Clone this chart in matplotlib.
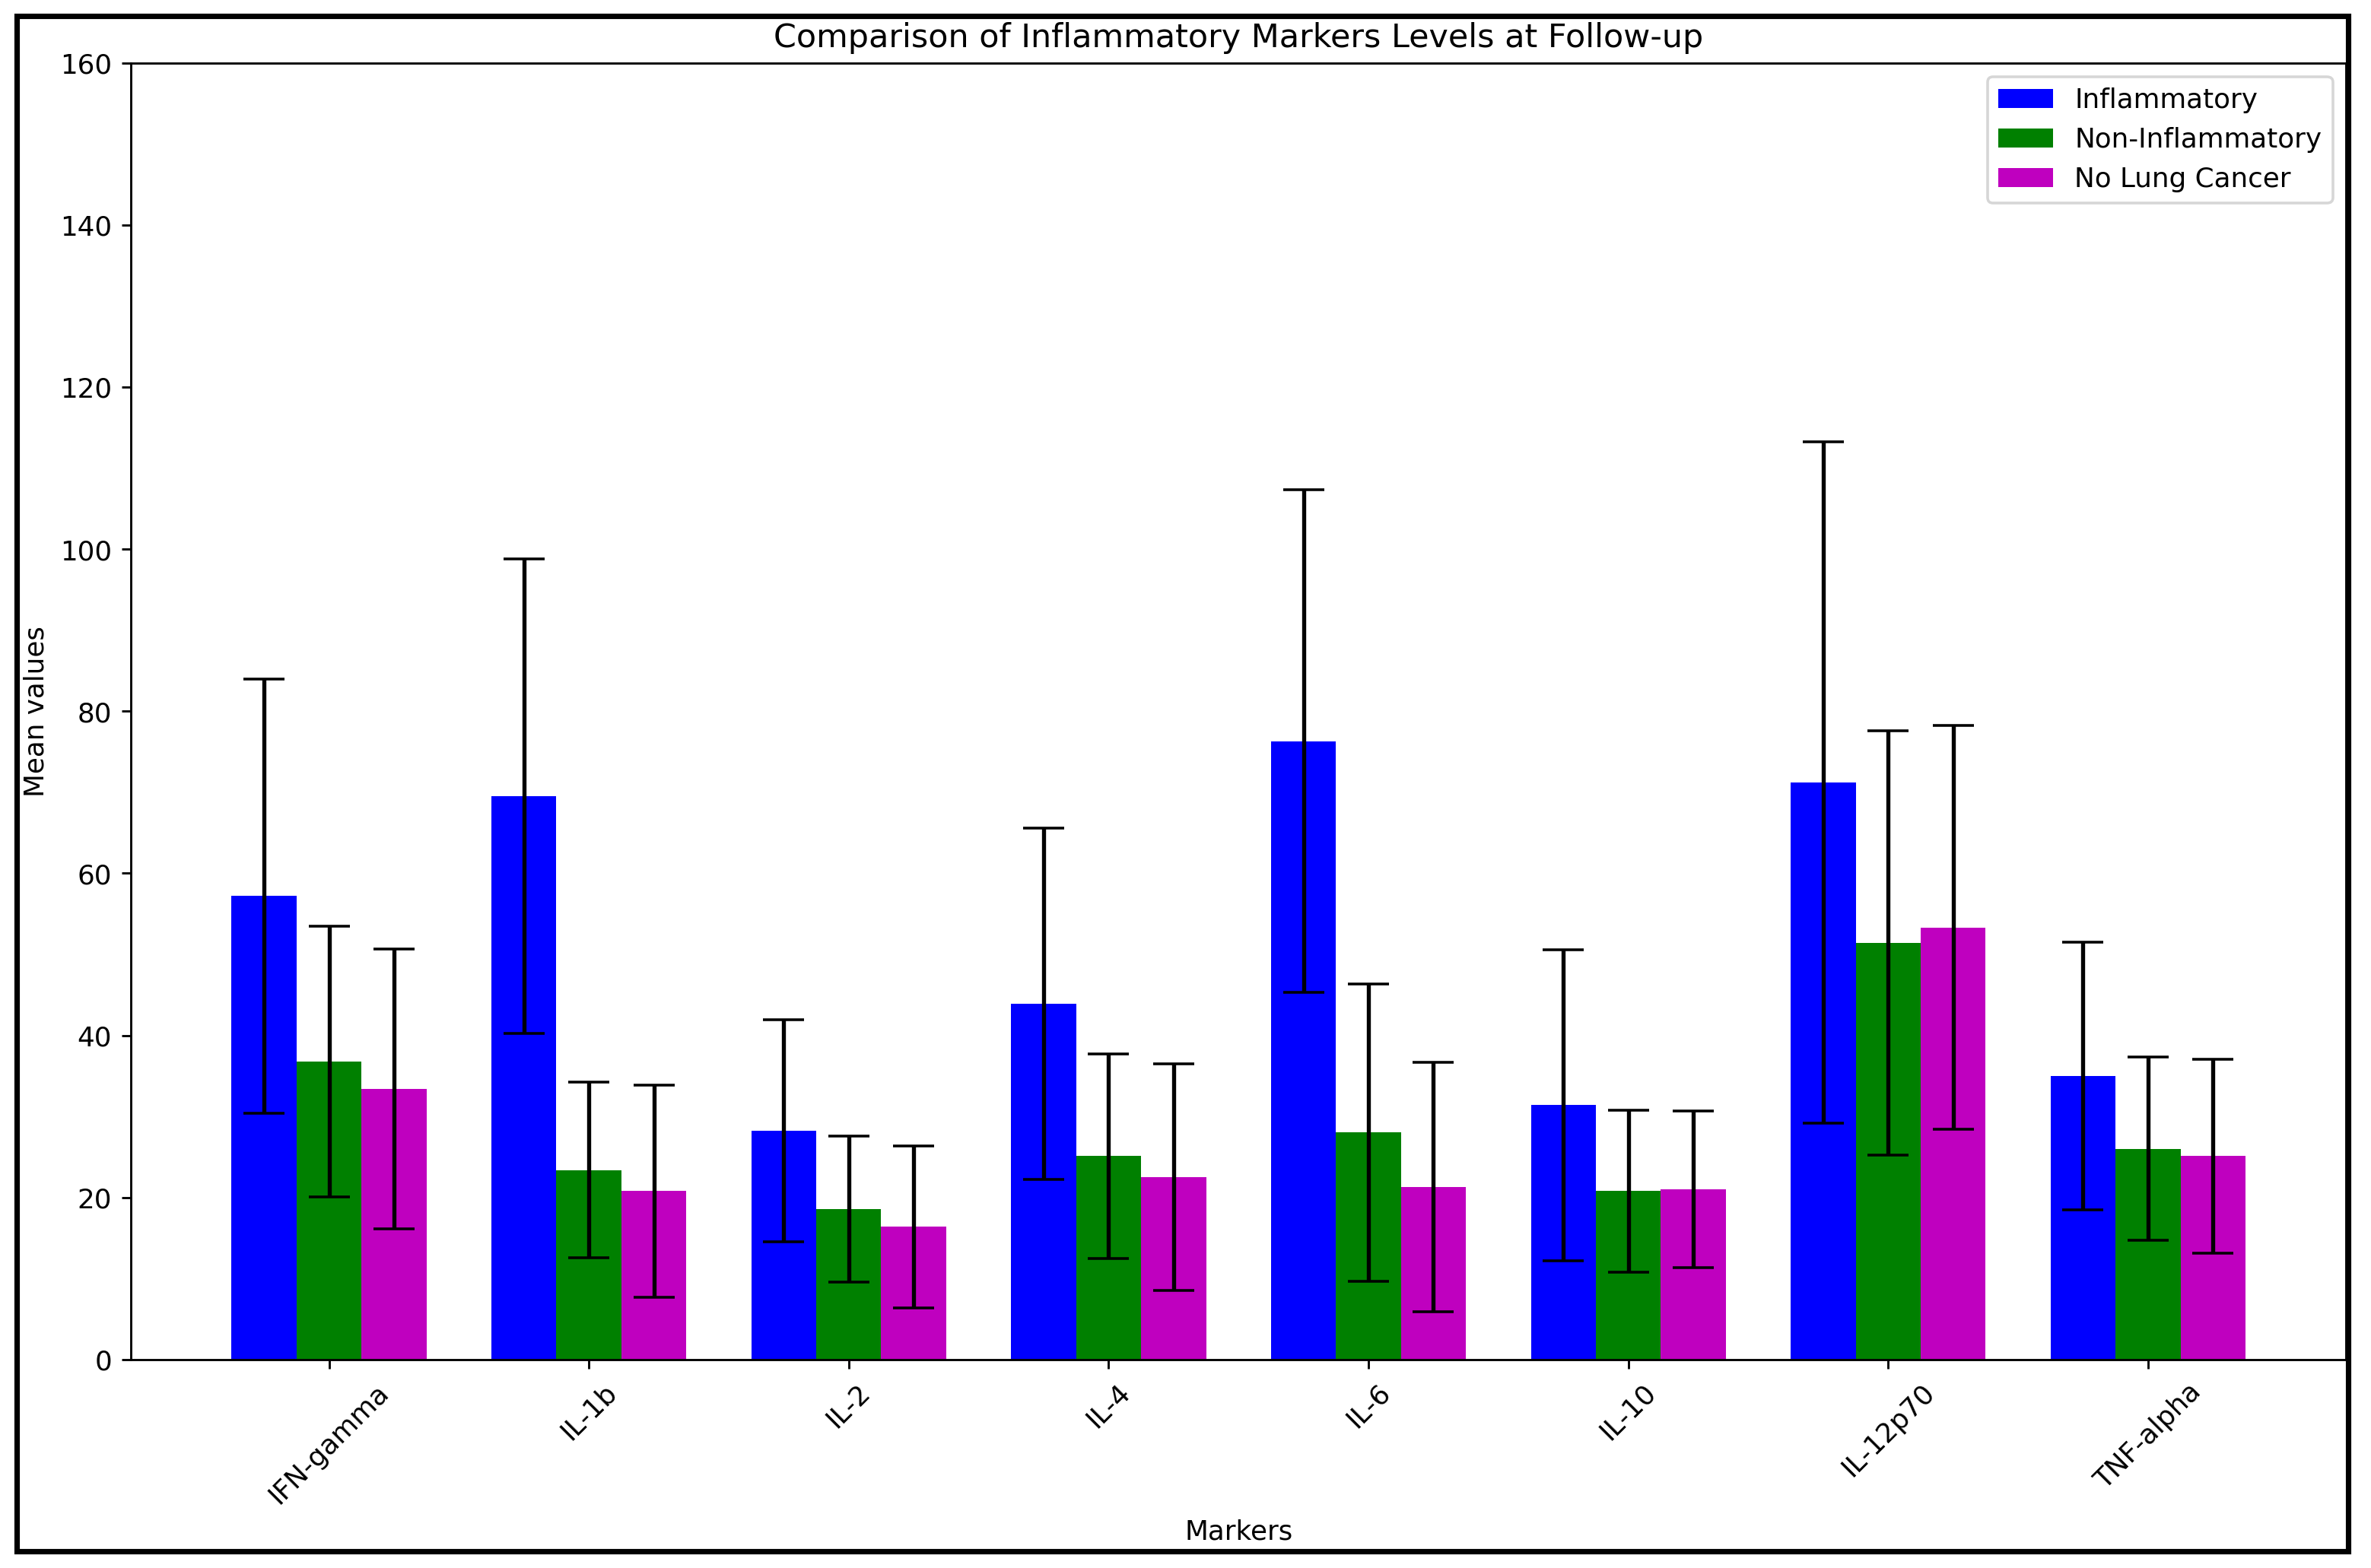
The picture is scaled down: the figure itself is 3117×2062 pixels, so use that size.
import numpy as np
import matplotlib
matplotlib.use('Agg')
import matplotlib.pyplot as plt
from matplotlib.patches import Rectangle

markers = ['IFN-gamma', 'IL-1b', 'IL-2', 'IL-4', 'IL-6', 'IL-10', 'IL-12p70', 'TNF-alpha']

# mean values per group
inflam_mean = [57.2, 69.5, 28.2, 43.9, 76.3, 31.4, 71.2, 35.0]
noninflam_mean = [36.8, 23.4, 18.6, 25.1, 28.0, 20.8, 51.4, 26.0]
nocancer_mean = [33.4, 20.8, 16.4, 22.5, 21.3, 21.0, 53.3, 25.1]

# error (sd) per group
inflam_err = [26.8, 29.3, 13.7, 21.7, 31.0, 19.2, 42.0, 16.5]
noninflam_err = [16.7, 10.8, 9.0, 12.6, 18.3, 10.0, 26.2, 11.3]
nocancer_err = [17.3, 13.1, 10.0, 14.0, 15.4, 9.7, 24.9, 12.0]

fig = plt.figure(figsize=(12.13, 8.025), dpi=257)
ax = fig.add_axes([0.0552, 0.1329, 0.9342, 0.8268])

x = np.arange(len(markers))
w = 0.25

ax.bar(x - w, inflam_mean, w, yerr=inflam_err, capsize=7.5, color='b', label='Inflammatory')
ax.bar(x, noninflam_mean, w, yerr=noninflam_err, capsize=7.5, color='g', label='Non-Inflammatory')
ax.bar(x + w, nocancer_mean, w, yerr=nocancer_err, capsize=7.5, color='m', label='No Lung Cancer')

ax.set_ylim(0, 160)
ax.set_xticks(x)
ax.set_xticklabels(markers, rotation=45)
ax.set_xlabel('Markers')
ax.set_ylabel('Mean values')
ax.set_title('Comparison of Inflammatory Markers Levels at Follow-up')
ax.legend(loc='upper right')

# black frame around the picture
fig.patches.append(Rectangle((0.0069, 0.0107), 0.9833, 0.9789, transform=fig.transFigure,
                             fill=False, edgecolor='black', linewidth=2.0))

fig.savefig('out.png', dpi=257)
